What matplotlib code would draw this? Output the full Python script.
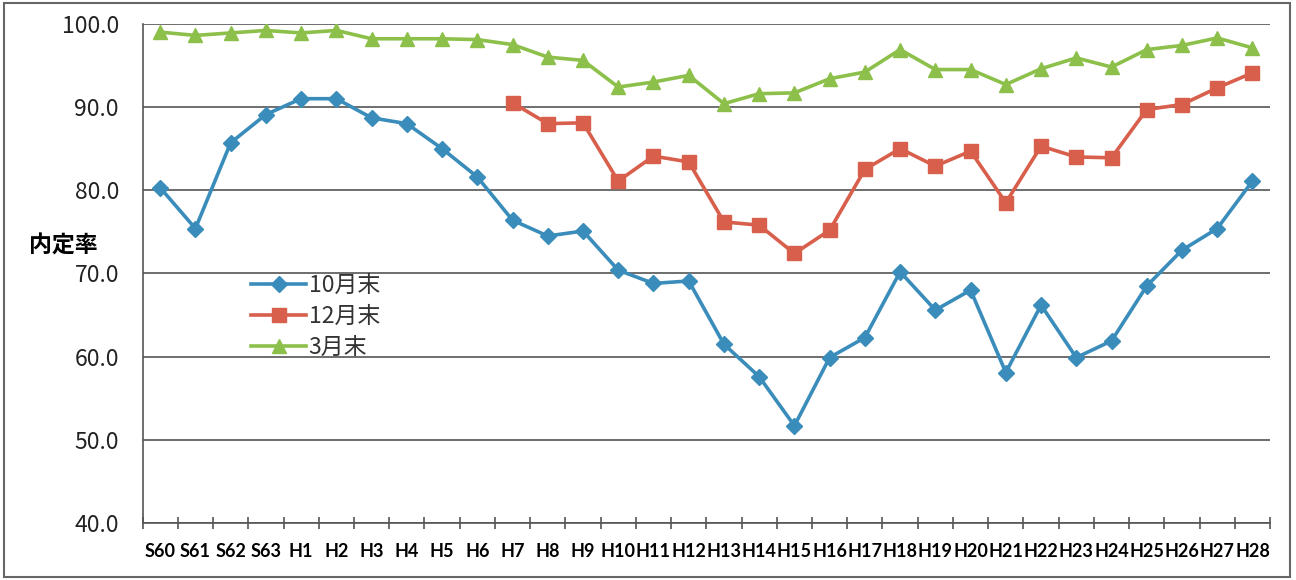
import matplotlib
matplotlib.use("Agg")
import matplotlib.pyplot as plt
from matplotlib.patches import Rectangle
import numpy as np

plt.rcParams['font.family'] = ['Noto Sans CJK JP', 'DejaVu Sans']

categories = ["S60", "S61", "S62", "S63", "H1", "H2", "H3", "H4", "H5", "H6",
              "H7", "H8", "H9", "H10", "H11", "H12", "H13", "H14", "H15", "H16",
              "H17", "H18", "H19", "H20", "H21", "H22", "H23", "H24", "H25", "H26",
              "H27", "H28"]

oct_end = [80.3, 75.4, 85.7, 89.1, 91.0, 91.0, 88.7, 88.0, 85.0, 81.6,
           76.4, 74.5, 75.1, 70.4, 68.8, 69.1, 61.5, 57.6, 51.7, 59.9,
           62.3, 70.2, 65.6, 68.0, 58.1, 66.2, 59.9, 61.9, 68.5, 72.8,
           75.4, 81.1]

dec_start = "H7"
dec_end = [90.5, 88.0, 88.1, 81.1, 84.1, 83.4, 76.2, 75.8, 72.4, 75.2,
           82.5, 85.0, 82.9, 84.7, 78.5, 85.3, 84.0, 83.9, 89.7, 90.3,
           92.3, 94.1]

mar_end = [99.0, 98.6, 98.9, 99.2, 98.9, 99.2, 98.2, 98.2, 98.2, 98.1,
           97.5, 96.0, 95.6, 92.4, 93.0, 93.8, 90.4, 91.6, 91.7, 93.4,
           94.2, 96.9, 94.5, 94.5, 92.7, 94.6, 95.9, 94.8, 96.9, 97.4,
           98.3, 97.1]

series_labels = ["10月末", "12月末", "3月末"]
y_ticks = [40, 50, 60, 70, 80, 90, 100]

fig = plt.figure(figsize=(12.96, 5.8), dpi=100)
ax = fig.add_axes([0.110, 0.098, 0.870, 0.861])

x = np.arange(len(categories))
i0 = categories.index(dec_start)
x_dec = x[i0:i0 + len(dec_end)]

ax.plot(x, oct_end, color='#3a8dba', lw=2.6, marker='D', ms=8,
        markeredgecolor='#3a8dba', label=series_labels[0], zorder=4)
ax.plot(x_dec, dec_end, color='#d85f4c', lw=2.6, marker='s', ms=10,
        markeredgecolor='#d85f4c', label=series_labels[1], zorder=4)
ax.plot(x, mar_end, color='#8cc04a', lw=2.6, marker='^', ms=10,
        markeredgecolor='#8cc04a', label=series_labels[2], zorder=4)

ax.set_xlim(-0.5, len(categories) - 0.5)
ax.set_ylim(40, 100)
ax.set_yticks(y_ticks)
ax.set_yticklabels([f"{v:.1f}" for v in y_ticks], fontsize=16.5, color='#222222')
ax.yaxis.grid(True, color='#555555', lw=1.2)
ax.set_axisbelow(True)
ax.tick_params(axis='y', length=0, pad=17)

ax.set_xticks(x)
ax.set_xticklabels(categories, fontsize=13, fontweight='bold',
                   family=['Lato', 'DejaVu Sans'])
ax.set_xticks(np.arange(-0.5, len(categories), 1.0), minor=True)
ax.tick_params(axis='x', which='major', length=0, pad=14)
ax.tick_params(axis='x', which='minor', length=8, direction='inout',
               color='#555555', width=1.2)

for s in ['top', 'right']:
    ax.spines[s].set_visible(False)
for s in ['left', 'bottom']:
    ax.spines[s].set_color('#555555')
    ax.spines[s].set_linewidth(1.2)

fig.text(0.022, 0.575, "内定率", fontsize=16.5, fontweight='bold',
         ha='left', va='center')

leg = ax.legend(loc='upper left', bbox_to_anchor=(0.185, 0.548),
                bbox_transform=fig.transFigure, frameon=False,
                fontsize=16.5, handlelength=2.4, handletextpad=0.1,
                labelspacing=0.35, borderpad=0)
for t in leg.get_texts():
    t.set_color('#333333')

fig.patches.append(Rectangle((0.003, 0.005), 0.992, 0.99,
                             transform=fig.transFigure, fill=False,
                             edgecolor='#666666', lw=1.5))

fig.savefig("out.png", dpi=100)
